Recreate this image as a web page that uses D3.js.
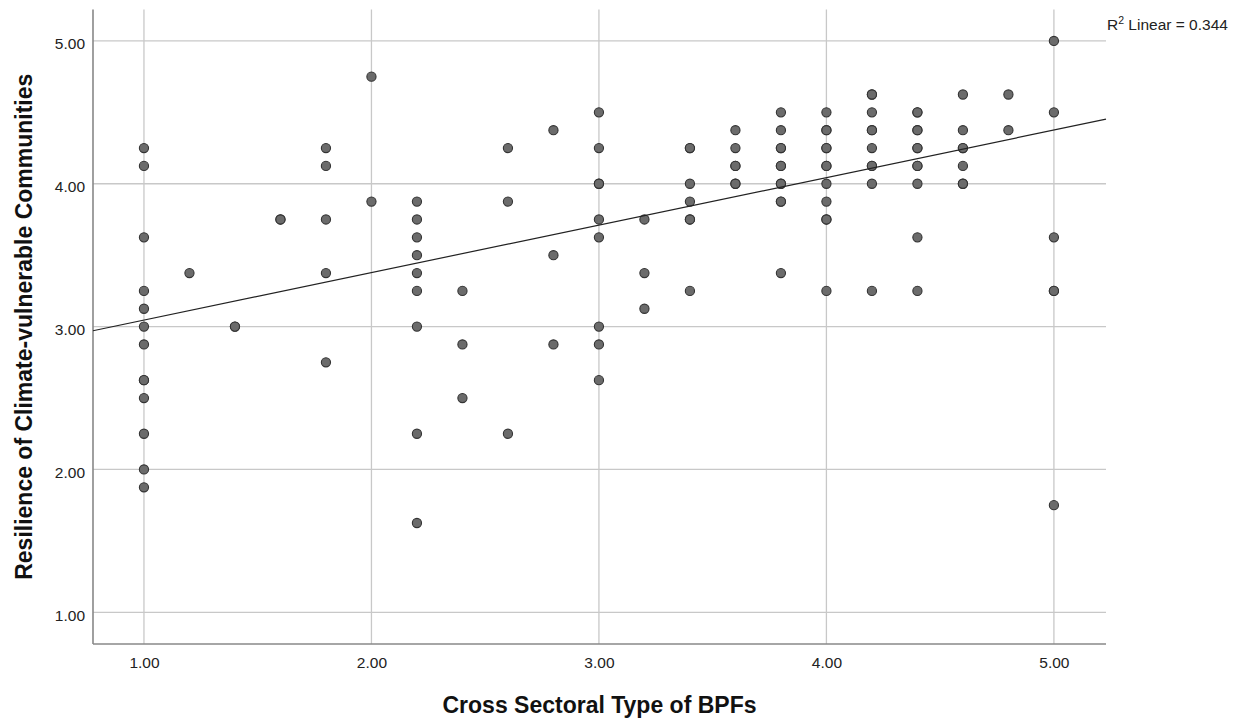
<!DOCTYPE html>
<html>
<head>
<meta charset="utf-8">
<script src="https://cdn.jsdelivr.net/npm/d3@7"></script>
<style>
  html, body { margin: 0; padding: 0; background: #fff; }
  svg { display: block; font-family: "Liberation Sans", Arial, sans-serif; }
</style>
</head>
<body>
<svg id="chart" width="1244" height="720"></svg>
<script>
// ---- data ----
const xTicks = [1, 2, 3, 4, 5];
const yTicks = [1, 2, 3, 4, 5];
// x values (Cross Sectoral Type of BPFs)
const xValues = [
  1.0,1.0,1.0,1.0,1.0,1.0,1.0,1.0,1.0,1.0,1.0,1.0,1.0,
  1.2,
  1.4,1.4,
  1.6,1.6,
  1.8,1.8,1.8,1.8,1.8,
  2.0,2.0,
  2.2,2.2,2.2,2.2,2.2,2.2,2.2,2.2,2.2,
  2.4,2.4,2.4,
  2.6,2.6,2.6,
  2.8,2.8,2.8,
  3.0,3.0,3.0,3.0,3.0,3.0,3.0,3.0,3.0,
  3.2,3.2,3.2,
  3.4,3.4,3.4,3.4,3.4,3.4,3.4,
  3.6,3.6,3.6,3.6,3.6,3.6,
  3.8,3.8,3.8,3.8,3.8,3.8,3.8,3.8,3.8,3.8,3.8,
  4.0,4.0,4.0,4.0,4.0,4.0,4.0,4.0,4.0,4.0,4.0,4.0,
  4.2,4.2,4.2,4.2,4.2,4.2,4.2,4.2,4.2,4.2,
  4.4,4.4,4.4,4.4,4.4,4.4,4.4,4.4,4.4,4.4,4.4,
  4.6,4.6,4.6,4.6,4.6,4.6,4.6,
  4.8,4.8,
  5.0,5.0,5.0,5.0,5.0,5.0
];
// y values (Resilience of Climate-vulnerable Communities)
const yValues = [
  4.25,4.125,3.625,3.25,3.125,3.0,2.875,2.625,2.625,2.5,2.25,2.0,1.875,
  3.375,
  3.0,3.0,
  3.75,3.75,
  4.25,4.125,3.75,3.375,2.75,
  4.75,3.875,
  3.875,3.75,3.625,3.5,3.375,3.25,3.0,2.25,1.625,
  3.25,2.875,2.5,
  4.25,3.875,2.25,
  4.375,3.5,2.875,
  4.5,4.25,4.0,4.0,3.75,3.625,3.0,2.875,2.625,
  3.75,3.375,3.125,
  4.25,4.25,4.0,3.875,3.75,3.75,3.25,
  4.375,4.25,4.125,4.125,4.0,4.0,
  4.5,4.375,4.25,4.25,4.125,4.125,4.0,4.0,3.875,3.875,3.375,
  4.5,4.375,4.375,4.25,4.25,4.125,4.125,4.0,3.875,3.75,3.75,3.25,
  4.625,4.625,4.5,4.375,4.375,4.25,4.125,4.125,4.0,3.25,
  4.5,4.5,4.375,4.375,4.25,4.25,4.125,4.125,4.0,3.625,3.25,
  4.625,4.375,4.25,4.25,4.125,4.0,4.0,
  4.625,4.375,
  5.0,4.5,3.625,3.25,3.25,1.75
];
// fit line (R² Linear = 0.344)
const fitIntercept = 2.713;
const fitSlope = 0.3326;
const r2Text = "0.344";
const xTitle = "Cross Sectoral Type of BPFs";
const yTitle = "Resilience of Climate-vulnerable Communities";

// ---- layout ----
const svg = d3.select("#chart");
const pLeft = 93, pRight = 1106, pTop = 9.5, pBottom = 644;
const x = d3.scaleLinear().domain([0.776, 5.229]).range([pLeft, pRight]);
const y = d3.scaleLinear().domain([0.778, 5.22]).range([pBottom, pTop]);

// grid lines
svg.append("g").selectAll("line").data(xTicks).join("line")
  .attr("x1", d => x(d)).attr("x2", d => x(d))
  .attr("y1", pTop).attr("y2", pBottom)
  .attr("stroke", "#c8c8c8").attr("stroke-width", 1.3);
svg.append("g").selectAll("line").data(yTicks).join("line")
  .attr("x1", pLeft).attr("x2", pRight)
  .attr("y1", d => y(d)).attr("y2", d => y(d))
  .attr("stroke", "#c8c8c8").attr("stroke-width", 1.3);

// axes
const xAxis = d3.axisBottom(x).tickValues(xTicks).tickFormat(d3.format(".2f")).tickSize(0).tickPadding(13);
const yAxis = d3.axisLeft(y).tickValues(yTicks).tickFormat(d3.format(".2f")).tickSize(0).tickPadding(8);
const gx = svg.append("g").attr("transform", `translate(0,${pBottom})`).call(xAxis);
const gy = svg.append("g").attr("transform", `translate(${pLeft},0)`).call(yAxis);
[gx, gy].forEach(g => {
  g.select(".domain").remove();
  g.selectAll("text").attr("font-size", 15.5).attr("fill", "#222")
    .attr("font-family", "'Liberation Sans', Arial, sans-serif");
});
gy.selectAll("text").attr("dy", "0.52em");
// axis lines (left and bottom only)
svg.append("line").attr("x1", pLeft).attr("x2", pLeft).attr("y1", pTop).attr("y2", pBottom)
  .attr("stroke", "#888").attr("stroke-width", 1.6);
svg.append("line").attr("x1", pLeft).attr("x2", pRight).attr("y1", pBottom).attr("y2", pBottom)
  .attr("stroke", "#888").attr("stroke-width", 1.6);

// points
const pts = xValues.map((v, i) => ({x: v, y: yValues[i]}));
svg.append("g").selectAll("circle").data(pts).join("circle")
  .attr("cx", d => x(d.x)).attr("cy", d => y(d.y)).attr("r", 4.6)
  .attr("fill", "#6b6b6b").attr("stroke", "#333").attr("stroke-width", 1.1);

// fit line
const [x0, x1] = x.domain();
svg.append("line")
  .attr("x1", x(x0)).attr("y1", y(fitIntercept + fitSlope * x0))
  .attr("x2", x(x1)).attr("y2", y(fitIntercept + fitSlope * x1))
  .attr("stroke", "#222").attr("stroke-width", 1.2);

// R² label
const r2 = svg.append("text").attr("x", 1107).attr("y", 30).attr("font-size", 15.5).attr("fill", "#222");
r2.append("tspan").text("R");
r2.append("tspan").attr("font-size", 10.5).attr("dy", -6).text("2");
r2.append("tspan").attr("dy", 6).text(" Linear = " + r2Text);

// titles
svg.append("text").attr("x", (pLeft + pRight) / 2).attr("y", 713)
  .attr("text-anchor", "middle").attr("font-size", 23).attr("font-weight", "bold").attr("fill", "#111")
  .text(xTitle);
svg.append("text").attr("transform", `translate(32,${(pTop + pBottom) / 2}) rotate(-90)`)
  .attr("text-anchor", "middle").attr("font-size", 23).attr("font-weight", "bold").attr("fill", "#111")
  .text(yTitle);
</script>
</body>
</html>
